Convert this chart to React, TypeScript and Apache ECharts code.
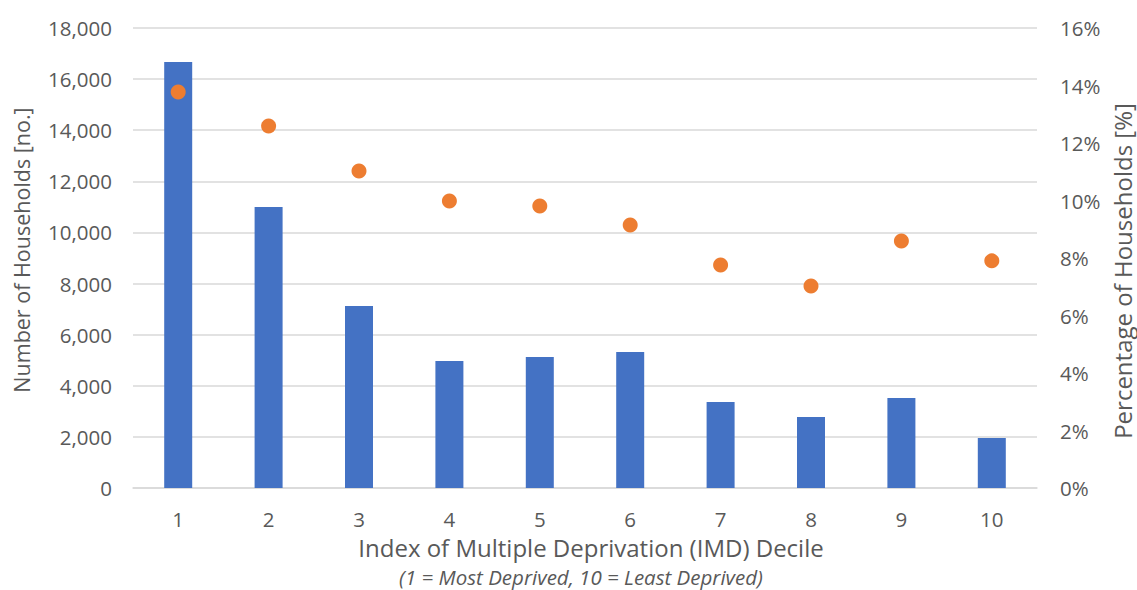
import React, { useEffect, useRef } from "react";
import * as echarts from "echarts";

const categories = ["1", "2", "3", "4", "5", "6", "7", "8", "9", "10"];
const households = [16670, 11000, 7120, 4970, 5130, 5320, 3365, 2780, 3520, 1960];
const percentages = [0.1377, 0.1259, 0.1103, 0.0998, 0.0981, 0.0915, 0.0776, 0.0703, 0.0859, 0.079];

const leftTitle = "Number of Households [no.]";
const rightTitle = "Percentage of Households [%]";
const xTitle = "Index of Multiple Deprivation (IMD) Decile";
const xSubtitle = "(1 = Most Deprived, 10 = Least Deprived)";

const FONT = "'Open Sans', sans-serif";
const TXT = "#595959";

export default function App() {
  const ref = useRef<HTMLDivElement>(null);
  useEffect(() => {
    if (!ref.current) return;
    const chart = echarts.init(ref.current, undefined, { renderer: "svg" });
    chart.setOption({
      animation: false,
      backgroundColor: "#ffffff",
      grid: { left: 133, right: 100, top: 28, bottom: 102, containLabel: false },
      xAxis: {
        type: "category",
        data: categories,
        axisLine: { lineStyle: { color: "#d9d9d9", width: 1.5 } },
        axisTick: { show: false },
        axisLabel: { color: TXT, fontSize: 20.5, fontFamily: FONT, margin: 20 },
      },
      yAxis: [
        {
          type: "value",
          min: 0,
          max: 18000,
          interval: 2000,
          axisLine: { show: false },
          axisTick: { show: false },
          splitLine: { lineStyle: { color: "#d9d9d9", width: 1.5 } },
          axisLabel: {
            color: TXT,
            fontSize: 20.5,
            fontFamily: FONT,
            margin: 21,
            formatter: (v: number) => v.toLocaleString("en-US"),
          },
        },
        {
          type: "value",
          min: 0,
          max: 0.16,
          interval: 0.02,
          axisLine: { show: false },
          axisTick: { show: false },
          splitLine: { show: false },
          axisLabel: {
            color: TXT,
            fontSize: 20.5,
            fontFamily: FONT,
            margin: 23,
            formatter: (v: number) => Math.round(v * 100) + "%",
          },
        },
      ],
      series: [
        {
          type: "bar",
          data: households,
          barWidth: 28,
          itemStyle: { color: "#4472C4" },
          yAxisIndex: 0,
        },
        {
          type: "scatter",
          data: percentages,
          yAxisIndex: 1,
          symbol: "circle",
          symbolSize: 15,
          itemStyle: { color: "#ED7D31", opacity: 1 },
        },
      ],
      graphic: [
        {
          type: "text",
          x: 21,
          y: 250,
          rotation: Math.PI / 2,
          style: { text: leftTitle, fill: TXT, font: `21.5px ${FONT}`, lineHeight: 22, textAlign: "center", textVerticalAlign: "middle" },
        },
        {
          type: "text",
          x: 1122,
          y: 271,
          rotation: Math.PI / 2,
          style: { text: rightTitle, fill: TXT, font: `24px ${FONT}`, lineHeight: 24, textAlign: "center", textVerticalAlign: "middle" },
        },
        {
          type: "text",
          x: 591,
          y: 547,
          style: { text: xTitle, fill: TXT, font: `24px ${FONT}`, lineHeight: 24, textAlign: "center", textVerticalAlign: "middle" },
        },
        {
          type: "text",
          x: 581,
          y: 577,
          style: { text: xSubtitle, fill: TXT, font: `italic 20.5px ${FONT}`, lineHeight: 20, textAlign: "center", textVerticalAlign: "middle" },
        },
      ],
    });
    return () => chart.dispose();
  }, []);
  return <div ref={ref} style={{ width: 1137, height: 590, position: "absolute", left: 0, top: 0 }} />;
}
